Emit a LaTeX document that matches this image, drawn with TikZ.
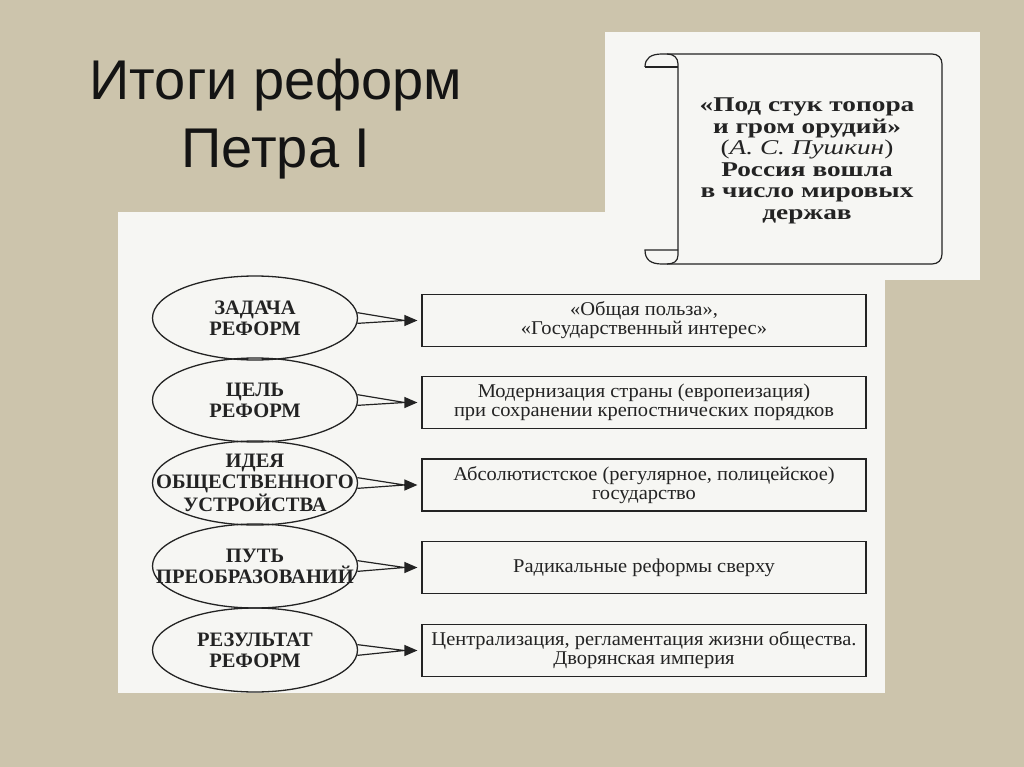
\documentclass[tikz,border=0pt]{standalone}
\usepackage{fontspec}
\setmainfont{Liberation Serif}
\newfontfamily\titlefont{Liberation Sans}
\newfontfamily\boxfont[FakeStretch=1.05]{Liberation Serif}
\newfontfamily\scrollfont[FakeStretch=1.3]{Liberation Serif}
\usetikzlibrary{shapes.geometric,arrows.meta,calc}
\definecolor{canvas}{RGB}{204,196,172}
\definecolor{sheet}{RGB}{246,246,243}
\definecolor{ink}{RGB}{35,35,35}
\tikzset{
  aim/.style={ellipse,draw=ink,line width=1.3pt,minimum width=205pt,minimum height=84pt,inner xsep=-30pt,inner ysep=0pt,font=\bfseries\fontsize{20.5}{21}\selectfont,align=center,text=ink},
  outcome/.style={rectangle,draw=ink,line width=1.2pt,minimum width=444pt,minimum height=52pt,inner sep=0pt,font=\boxfont\fontsize{19.5}{19}\selectfont,align=center,text=ink},
  wedge/.style={draw=ink,line width=1.2pt},
  pointer/.style={-{Triangle[length=13pt,width=11pt]},draw=ink,fill=ink,line width=1.2pt,shorten >=4pt}
}
\begin{document}
\begin{tikzpicture}[x=1pt,y=-1pt]
\useasboundingbox[fill=canvas] (0,0) rectangle (1024,767);
% white sheets
\fill[sheet] (605,32) rectangle (980,280);
\fill[sheet] (118,212) rectangle (885,693);
% title
\node[font=\titlefont\fontsize{56}{68}\selectfont,anchor=base,text=black!92] (title1) at (276,100) {Итоги реформ};
\node[font=\titlefont\fontsize{56}{68}\selectfont,anchor=base,text=black!92] (title2) at (276,168) {Петра I};
% scroll
\draw[ink,line width=1.2pt] (645,67) -- (678,67);
\draw[ink,line width=1.2pt] (645,67) .. controls (645,58) and (651,54) .. (662,54) -- (932,54) .. controls (938,54) and (942,58) .. (942,64) -- (942,254) .. controls (942,260) and (938,264) .. (932,264) -- (662,264) .. controls (651,264) and (645,260) .. (645,250) -- (678,250);
\draw[ink,line width=1.2pt] (667,54) .. controls (674,54) and (678,58) .. (678,64) -- (678,255) .. controls (678,261) and (674,264) .. (667,264);
\node[font=\scrollfont\fontsize{21}{21.5}\selectfont,align=center,text=ink] (quote) at (807,161) {\textbf{«Под стук топора}\\\textbf{и гром орудий»}\\(\textit{А. С. Пушкин})\\\textbf{Россия вошла}\\\textbf{в число мировых}\\\textbf{держав}};
% ellipses
\node[aim] (zadacha) at (255,318) {ЗАДАЧА\\РЕФОРМ};
\node[aim] (cel) at (255,400) {ЦЕЛЬ\\РЕФОРМ};
\node[aim] (ideya) at (255,483) {ИДЕЯ\\ОБЩЕСТВЕННОГО\\УСТРОЙСТВА};
\node[aim] (put) at (255,566) {ПУТЬ\\ПРЕОБРАЗОВАНИЙ};
\node[aim] (itog) at (255,650) {РЕЗУЛЬТАТ\\РЕФОРМ};
% boxes
\node[outcome] (polza) at (644,320.5) {«Общая польза»,\\«Государственный интерес»};
\node[outcome] (modern) at (644,402.5) {Модернизация страны (европеизация)\\при сохранении крепостнических порядков};
\node[outcome] (gosud) at (644,485) {Абсолютистское (регулярное, полицейское)\\государство};
\node[outcome] (sverhu) at (644,567.5) {Радикальные реформы сверху};
\node[outcome] (imperiya) at (644,650.5) {Централизация, регламентация жизни общества.\\Дворянская империя};
% connectors
\coordinate (m1) at ($(polza.west)+(-17,0)$);
\coordinate (m2) at ($(modern.west)+(-17,0)$);
\coordinate (m3) at ($(gosud.west)+(-17,0)$);
\coordinate (m4) at ($(sverhu.west)+(-17,0)$);
\coordinate (m5) at ($(imperiya.west)+(-17,0)$);
\draw[wedge] (zadacha.3.5) -- (m1) -- (zadacha.-3.5);
\draw[pointer] (m1) -- (polza.west);
\draw[wedge] (cel.3.5) -- (m2) -- (cel.-3.5);
\draw[pointer] (m2) -- (modern.west);
\draw[wedge] (ideya.3.5) -- (m3) -- (ideya.-3.5);
\draw[pointer] (m3) -- (gosud.west);
\draw[wedge] (put.3.5) -- (m4) -- (put.-3.5);
\draw[pointer] (m4) -- (sverhu.west);
\draw[wedge] (itog.3.5) -- (m5) -- (itog.-3.5);
\draw[pointer] (m5) -- (imperiya.west);
\end{tikzpicture}
\end{document}
